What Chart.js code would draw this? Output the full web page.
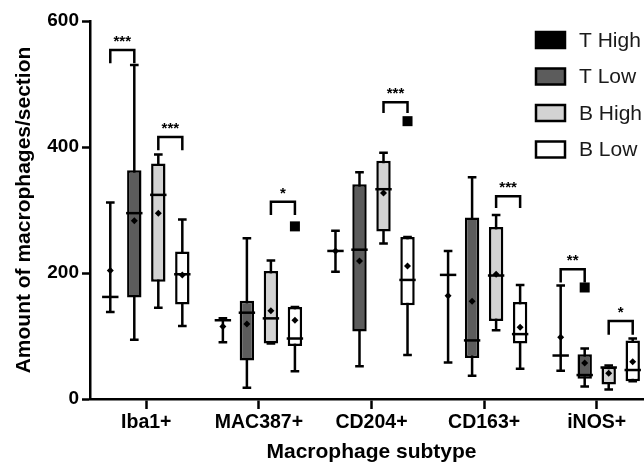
<!DOCTYPE html>
<html>
<head>
<meta charset="utf-8">
<script src="https://cdn.jsdelivr.net/npm/chart.js@4.4.1/dist/chart.umd.min.js"></script>
<style>
  html, body { margin: 0; padding: 0; background: #fff; overflow: hidden; }
  #wrap { width: 653px; height: 467px; }
</style>
</head>
<body>
<div id="wrap"><canvas id="chart" width="653" height="467"></canvas></div>
<script>
const categories = ['Iba1+', 'MAC387+', 'CD204+', 'CD163+', 'iNOS+'];
const seriesNames = ['T High', 'T Low', 'B High', 'B Low'];
const seriesColors = ['#000000', '#5c5c5c', '#d3d3d3', '#ffffff'];
const yTicks = [0, 200, 400, 600];

// box plot values, one entry per category
const tHighMin = [138, 90, 202, 58, 45];
const tHighQ1 = [162, 125, 235, 197, 69];
const tHighMedian = [162, 125, 235, 197, 69];
const tHighQ3 = [162, 125, 235, 197, 69];
const tHighMax = [312, 128, 267, 235, 180];
const tHighMean = [204, 115, 235, 164, 98];
const tHighOutliers = [[], [], [], [], []];

const tLowMin = [94, 18, 52, 37, 20];
const tLowQ1 = [161, 61, 107, 65, 32];
const tLowMedian = [295, 137, 237, 93, 38];
const tLowQ3 = [363, 156, 341, 288, 71];
const tLowMax = [530, 255, 360, 352, 80];
const tLowMean = [283, 119, 219, 155, 57];
const tLowOutliers = [[], [], [], [], [177]];

const bHighMin = [145, 88, 247, 109, 15];
const bHighQ1 = [186, 88, 266, 124, 23];
const bHighMedian = [324, 128, 333, 196, 50];
const bHighQ3 = [374, 203, 378, 273, 51];
const bHighMax = [388, 220, 391, 292, 53];
const bHighMean = [295, 140, 327, 198, 41];
const bHighOutliers = [[], [], [], [], []];

const bLowMin = [116, 44, 70, 48, 28];
const bLowQ1 = [150, 84, 149, 88, 28];
const bLowMedian = [198, 96, 189, 103, 46];
const bLowQ3 = [234, 146, 257, 154, 93];
const bLowMax = [285, 146, 257, 181, 96];
const bLowMean = [197, 125, 211, 114, 59];
const bLowOutliers = [[], [274], [441], [], []];

// significance brackets: category, left series, right series, top, left leg end, right leg end, label
const brackets = [
    [0, 0, 1, 554, 533, 533, '***'],
    [0, 2, 3, 416, 395, 395, '***'],
    [1, 2, 3, 313, 292, 292, '*'],
    [2, 2, 3, 471, 454, 454, '***'],
    [3, 2, 3, 322, 303, 303, '***'],
    [4, 0, 1, 206, 185, 185, '**'],
    [4, 2, 3, 124, 102, 102, '*']
];

const stats = [
    { min: tHighMin, q1: tHighQ1, med: tHighMedian, q3: tHighQ3, max: tHighMax, mean: tHighMean, out: tHighOutliers },
    { min: tLowMin, q1: tLowQ1, med: tLowMedian, q3: tLowQ3, max: tLowMax, mean: tLowMean, out: tLowOutliers },
    { min: bHighMin, q1: bHighQ1, med: bHighMedian, q3: bHighQ3, max: bHighMax, mean: bHighMean, out: bHighOutliers },
    { min: bLowMin, q1: bLowQ1, med: bLowMedian, q3: bLowQ3, max: bLowMax, mean: bLowMean, out: bLowOutliers }
];

const FONT = "'Liberation Sans', Arial, Helvetica, sans-serif";
Chart.defaults.font.family = FONT;

const boxExtras = {
    id: 'boxExtras',
    beforeDatasetsDraw(chart) {
        // whiskers and caps go under the boxes
        const ctx = chart.ctx;
        const y = chart.scales.y;
        ctx.save();
        ctx.strokeStyle = '#000';
        ctx.lineWidth = 2.5;
        stats.forEach((s, d) => {
            chart.getDatasetMeta(d).data.forEach((bar, i) => {
                const cap = bar.width * 0.3;
                const yMin = y.getPixelForValue(s.min[i]);
                const yMax = y.getPixelForValue(s.max[i]);
                ctx.beginPath();
                ctx.moveTo(bar.x, yMax);
                ctx.lineTo(bar.x, yMin);
                ctx.moveTo(bar.x - cap, yMax);
                ctx.lineTo(bar.x + cap, yMax);
                ctx.moveTo(bar.x - cap, yMin);
                ctx.lineTo(bar.x + cap, yMin);
                ctx.stroke();
            });
        });
        ctx.restore();
    },
    afterDatasetsDraw(chart) {
        const ctx = chart.ctx;
        const y = chart.scales.y;
        ctx.save();
        ctx.strokeStyle = '#000';
        ctx.fillStyle = '#000';
        ctx.lineWidth = 2.5;
        stats.forEach((s, d) => {
            chart.getDatasetMeta(d).data.forEach((bar, i) => {
                const half = bar.width / 2 + 1;
                const ym = y.getPixelForValue(s.med[i]);
                ctx.beginPath();
                ctx.moveTo(bar.x - half, ym);
                ctx.lineTo(bar.x + half, ym);
                ctx.stroke();

                // mean marker
                const ya = y.getPixelForValue(s.mean[i]);
                ctx.beginPath();
                ctx.moveTo(bar.x, ya - 3.5);
                ctx.lineTo(bar.x + 3.5, ya);
                ctx.lineTo(bar.x, ya + 3.5);
                ctx.lineTo(bar.x - 3.5, ya);
                ctx.closePath();
                ctx.fill();

                s.out[i].forEach(v => {
                    const yo = y.getPixelForValue(v);
                    ctx.fillRect(bar.x - 5, yo - 5, 10, 10);
                });
            });
        });

        // brackets
        ctx.textAlign = 'center';
        ctx.textBaseline = 'alphabetic';
        ctx.font = 'bold 15px ' + FONT;
        brackets.forEach(b => {
            const x1 = chart.getDatasetMeta(b[1]).data[b[0]].x;
            const x2 = chart.getDatasetMeta(b[2]).data[b[0]].x;
            const yt = y.getPixelForValue(b[3]);
            ctx.beginPath();
            ctx.moveTo(x1, y.getPixelForValue(b[4]));
            ctx.lineTo(x1, yt);
            ctx.lineTo(x2, yt);
            ctx.lineTo(x2, y.getPixelForValue(b[5]));
            ctx.stroke();
            ctx.fillText(b[6], (x1 + x2) / 2, yt - 4);
        });
        ctx.restore();
    },
    afterDraw(chart) {
        // legend inside the plot, top right
        const ctx = chart.ctx;
        ctx.save();
        ctx.lineWidth = 2.5;
        ctx.strokeStyle = '#000';
        ctx.font = '21px ' + FONT;
        ctx.textBaseline = 'middle';
        ctx.textAlign = 'left';
        seriesNames.forEach((name, k) => {
            const cy = 40 + k * 36.5;
            ctx.fillStyle = seriesColors[k];
            ctx.fillRect(536, cy - 8, 29, 16);
            ctx.strokeRect(536, cy - 8, 29, 16);
            ctx.fillStyle = '#1a1a1a';
            ctx.fillText(name, 579, cy + 1);
        });
        ctx.restore();
    }
};

const datasets = stats.map((s, d) => ({
    label: seriesNames[d],
    data: categories.map((c, i) => [s.q1[i], s.q3[i]]),
    backgroundColor: seriesColors[d],
    borderColor: '#000',
    borderWidth: 2.5,
    borderSkipped: false,
    categoryPercentage: 0.853,
    barPercentage: 0.6
}));

new Chart(document.getElementById('chart').getContext('2d'), {
    type: 'bar',
    data: { labels: categories, datasets: datasets },
    options: {
        responsive: false,
        animation: false,
        layout: { padding: { top: 21, left: 0, right: 0, bottom: 0 } },
        plugins: {
            legend: { display: false },
            tooltip: { enabled: false }
        },
        scales: {
            x: {
                grid: { offset: false, drawOnChartArea: false, tickLength: 10, tickWidth: 2.5, tickColor: '#000' },
                border: { color: '#000', width: 2.5 },
                ticks: { color: '#000', font: { size: 19.5, weight: 'bold' }, padding: 2 },
                title: {
                    display: true,
                    text: 'Macrophage subtype',
                    color: '#000',
                    font: { size: 21, weight: 'bold' },
                    padding: { top: 0, bottom: 2 }
                },
                afterFit(scale) { scale.height = 68; }
            },
            y: {
                min: 0,
                max: 600,
                afterBuildTicks(scale) { scale.ticks = yTicks.map(v => ({ value: v })); },
                grid: { drawOnChartArea: false, tickLength: 8, tickWidth: 2.5, tickColor: '#000' },
                border: { color: '#000', width: 2.5 },
                ticks: { color: '#000', font: { size: 19, weight: 'bold' }, padding: 3 },
                title: {
                    display: true,
                    text: 'Amount of macrophages/section',
                    color: '#000',
                    font: { size: 21, weight: 'bold' },
                    padding: { top: 12, bottom: 0 }
                },
                afterFit(scale) { scale.width = 90; }
            }
        }
    },
    plugins: [boxExtras]
});
</script>
</body>
</html>
